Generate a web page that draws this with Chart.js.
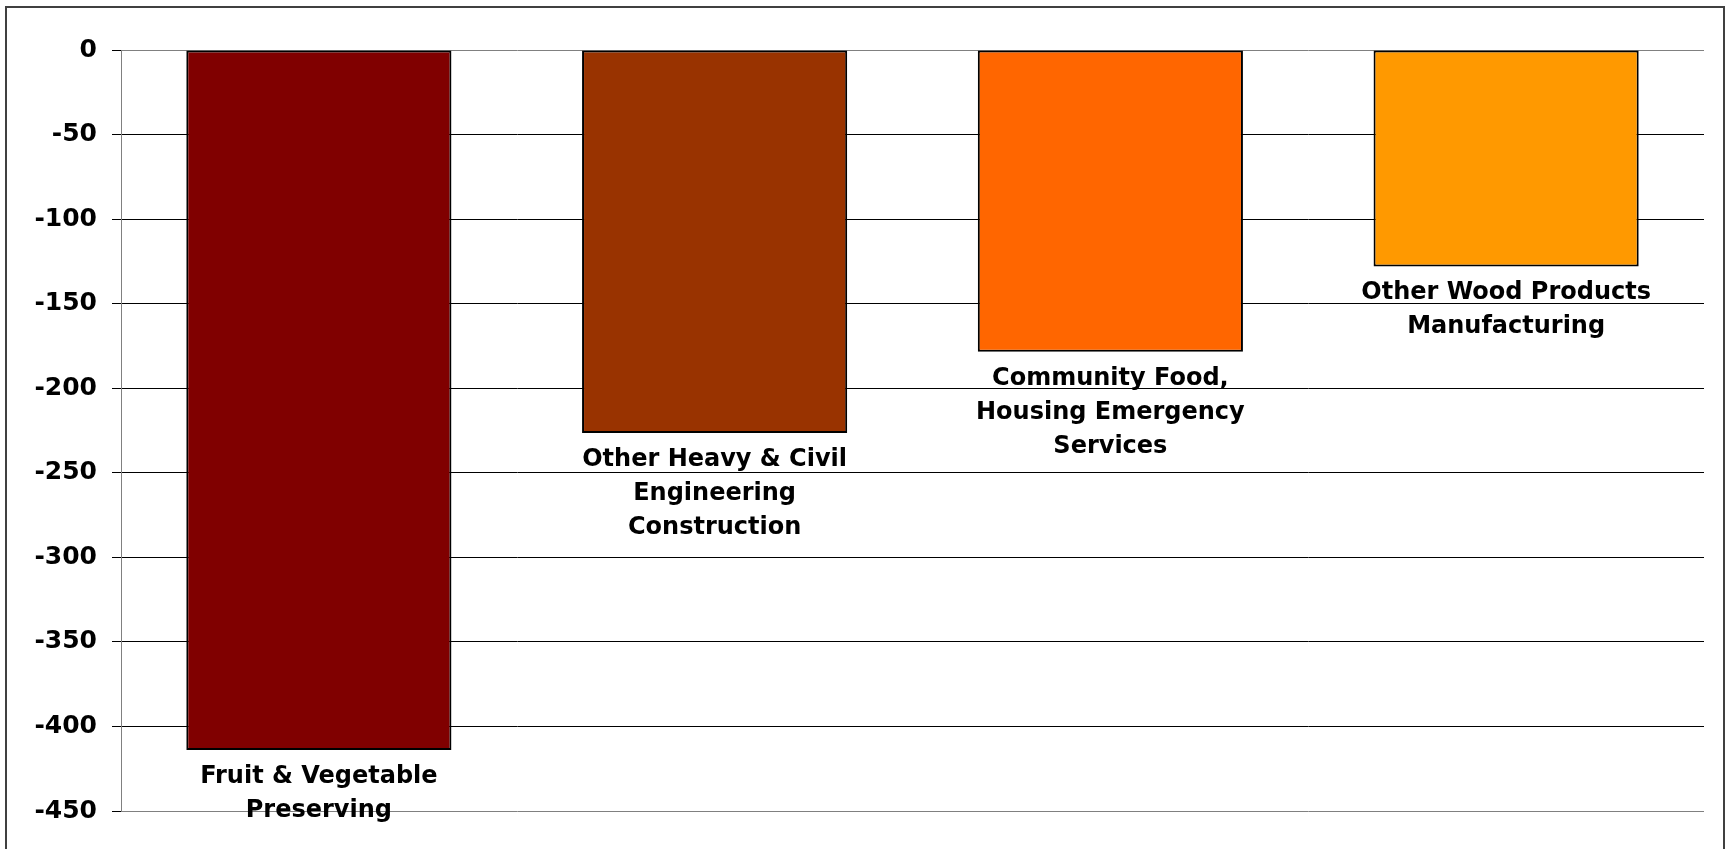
<!DOCTYPE html>
<html>
<head>
<meta charset="utf-8">
<script src="https://cdn.jsdelivr.net/npm/chart.js@4"></script>
<style>
  html, body { margin: 0; padding: 0; background: #fff; }
  #wrap { width: 1728px; height: 849px; position: relative; }
</style>
</head>
<body>
<div id="wrap"><canvas id="chart"></canvas></div>
<script>
// Data
const categories = [
  ['Fruit & Vegetable', 'Preserving'],
  ['Other Heavy & Civil', 'Engineering', 'Construction'],
  ['Community Food,', 'Housing Emergency', 'Services'],
  ['Other Wood Products', 'Manufacturing']
];
const values = [-414, -226.5, -178.5, -128];
const barColors = ['#800000', '#993300', '#FF6600', '#FF9900'];
const yTicks = { min: -450, max: 0, step: 50 };

const FONT = '"DejaVu Sans", Verdana, sans-serif';

// Outer frame
const frame = {
  id: 'frame',
  beforeDraw(chart) {
    const { ctx } = chart;
    ctx.save();
    ctx.fillStyle = '#fff';
    ctx.fillRect(0, 0, chart.width, chart.height);
    ctx.strokeStyle = '#404040';
    ctx.lineWidth = 2;
    ctx.strokeRect(6, 7, 1718, 900);
    ctx.restore();
  }
};

// Category names under each bar
const barLabels = {
  id: 'barLabels',
  afterDatasetsDraw(chart) {
    const { ctx } = chart;
    const meta = chart.getDatasetMeta(0);
    ctx.save();
    ctx.fillStyle = '#000';
    ctx.font = 'bold 24px ' + FONT;
    ctx.textAlign = 'center';
    ctx.textBaseline = 'alphabetic';
    meta.data.forEach((bar, i) => {
      const lines = categories[i];
      lines.forEach((ln, j) => {
        ctx.fillText(ln, bar.x, bar.y + 33 + j * 34);
      });
    });
    ctx.restore();
  }
};

new Chart(document.getElementById('chart'), {
  type: 'bar',
  data: {
    labels: categories.map(c => c.join(' ')),
    datasets: [{
      data: values,
      backgroundColor: barColors,
      borderColor: '#000',
      borderWidth: 2,
      borderSkipped: false,
      barPercentage: 0.67,
      categoryPercentage: 1.0
    }]
  },
  options: {
    responsive: true,
    maintainAspectRatio: false,
    animation: false,
    layout: { padding: { top: 50, right: 24, bottom: 38, left: 0 } },
    plugins: {
      legend: { display: false },
      tooltip: { enabled: false }
    },
    scales: {
      x: { display: false },
      y: {
        min: yTicks.min,
        max: yTicks.max,
        afterFit(scale) { scale.width = 121; },
        ticks: {
          stepSize: yTicks.step,
          color: '#000',
          padding: 15,
          font: { family: FONT, size: 25, weight: 'bold' }
        },
        grid: {
          color: c => (c.tick && (c.tick.value === 0 || c.tick.value === -450)) ? '#808080' : '#000',
          tickColor: '#000',
          tickLength: 9,
          lineWidth: 1
        },
        border: { display: true, color: '#808080', width: 1 }
      }
    }
  },
  plugins: [frame, barLabels]
});
</script>
</body>
</html>
